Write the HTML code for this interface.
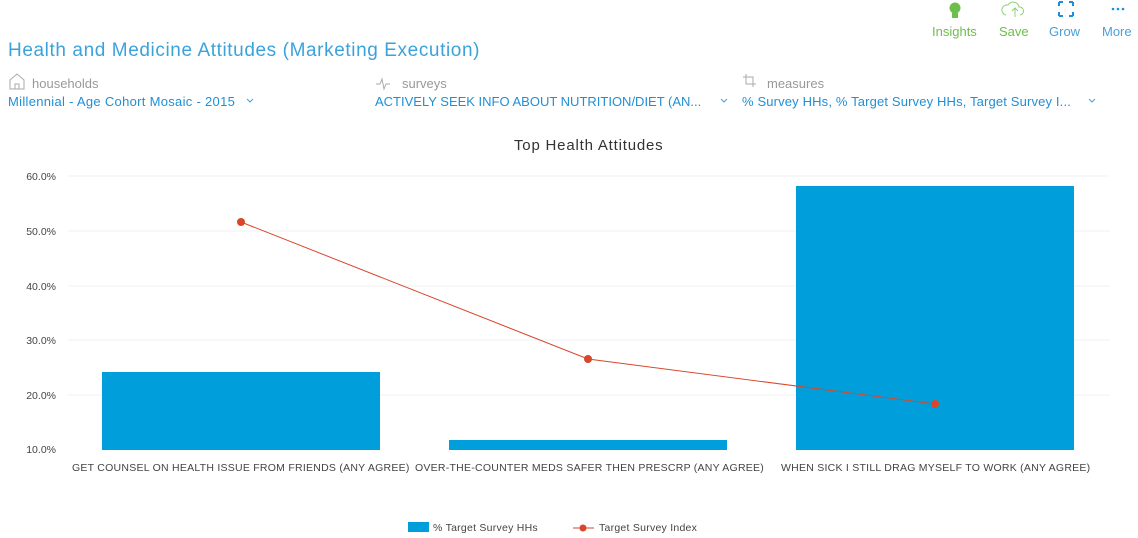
<!DOCTYPE html>
<html><head><style>
body{margin:0;width:1138px;height:538px;background:#fff;font-family:"Liberation Sans",sans-serif;overflow:hidden;position:relative}
.a{position:absolute;white-space:nowrap}
.x{font-size:10.5px;color:#444;letter-spacing:0.25px}
</style></head><body>
<div class="a" style="left:932px;top:24px;font-size:13px;color:#6cc04a">Insights</div>
<div class="a" style="left:999px;top:24px;font-size:13px;color:#6cc04a">Save</div>
<div class="a" style="left:1049px;top:24px;font-size:13px;color:#4a9fd8">Grow</div>
<div class="a" style="left:1102px;top:24px;font-size:13px;color:#4a9fd8">More</div>
<svg class="a" style="left:0;top:0" width="1138" height="538">
<circle cx="955" cy="8" r="5.5" fill="#6cc04a"/><rect x="952" y="13" width="6" height="5" fill="#6cc04a"/>
<path d="M1006 15 a5 5 0 0 1 2-10 a6 6 0 0 1 11 2 a4 4 0 0 1 1 8 M1015 17 v-9 M1012 11 l3-3 3 3" fill="none" stroke="#8fd07a" stroke-width="1"/>
<g stroke="#1a8fe0" stroke-width="2" fill="none"><path d="M1059 2h4M1059 2v4M1073 2h-4M1073 2v4M1059 16h4M1059 16v-4M1073 16h-4M1073 16v-4"/></g>
<g fill="#1a8fe0"><circle cx="1113" cy="9" r="1.3"/><circle cx="1118" cy="9" r="1.3"/><circle cx="1123" cy="9" r="1.3"/></g>
<path d="M10 80 l7-6 7 6 v9 h-14z M15 89 v-5 h4 v5" fill="none" stroke="#aaa"/>
<path d="M376 84 h4 l2-5 2 10 2-5 h4" fill="none" stroke="#aaa"/>
<path d="M746 74 v10 h10 M743 77 h10 v10" fill="none" stroke="#aaa"/>
<path d="M247 99 l3 3 3-3 M721 99 l3 3 3-3 M1089 99 l3 3 3-3" fill="none" stroke="#4a9fd8"/>
<g stroke="#f0f0f0"><line x1="68" x2="1110" y1="176" y2="176"/><line x1="68" x2="1110" y1="231" y2="231"/><line x1="68" x2="1110" y1="286" y2="286"/><line x1="68" x2="1110" y1="340" y2="340"/><line x1="68" x2="1110" y1="395" y2="395"/></g>
<g fill="#009fdb"><rect x="102" y="372" width="278" height="78"/><rect x="449" y="440" width="278" height="10"/><rect x="796" y="186" width="278" height="264"/></g>
<polyline points="241,222 588,359 935,404" fill="none" stroke="#d9472b" stroke-width="1"/>
<g fill="#d9472b"><circle cx="241" cy="222" r="4"/><circle cx="588" cy="359" r="4"/><circle cx="935" cy="404" r="4"/></g>
<g font-size="10.5" fill="#444" text-anchor="end" font-family="Liberation Sans"><text x="56" y="180">60.0%</text><text x="56" y="235">50.0%</text><text x="56" y="290">40.0%</text><text x="56" y="344">30.0%</text><text x="56" y="399">20.0%</text><text x="56" y="453">10.0%</text></g>
<rect x="408" y="522" width="21" height="10" fill="#009fdb"/>
<line x1="573" x2="594" y1="528" y2="528" stroke="#d9472b"/><circle cx="583" cy="528" r="3.5" fill="#d9472b"/>
</svg>
<div class="a" style="left:8px;top:40px;font-size:19px;color:#3aa3dc;letter-spacing:0.6px">Health and Medicine Attitudes (Marketing Execution)</div>
<div class="a" style="left:32px;top:76px;font-size:13px;color:#999">households</div>
<div class="a" style="left:402px;top:76px;font-size:13px;color:#999">surveys</div>
<div class="a" style="left:767px;top:76px;font-size:13px;color:#999">measures</div>
<div class="a" style="left:8px;top:94px;font-size:13px;color:#1f8fd6;letter-spacing:0.3px">Millennial - Age Cohort Mosaic - 2015</div>
<div class="a" style="left:375px;top:94px;font-size:13px;color:#1f8fd6">ACTIVELY SEEK INFO ABOUT NUTRITION/DIET (AN...</div>
<div class="a" style="left:742px;top:94px;font-size:13px;color:#1f8fd6;letter-spacing:0.15px">% Survey HHs, % Target Survey HHs, Target Survey I...</div>
<div class="a" style="left:514px;top:137px;font-size:15px;color:#333;letter-spacing:0.8px">Top Health Attitudes</div>
<div class="a x" style="left:72px;top:462px">GET COUNSEL ON HEALTH ISSUE FROM FRIENDS (ANY AGREE)</div>
<div class="a x" style="left:415px;top:462px">OVER-THE-COUNTER MEDS SAFER THEN PRESCRP (ANY AGREE)</div>
<div class="a x" style="left:781px;top:462px">WHEN SICK I STILL DRAG MYSELF TO WORK (ANY AGREE)</div>
<div class="a x" style="left:433px;top:522px">% Target Survey HHs</div>
<div class="a x" style="left:599px;top:522px">Target Survey Index</div>
</body></html>
